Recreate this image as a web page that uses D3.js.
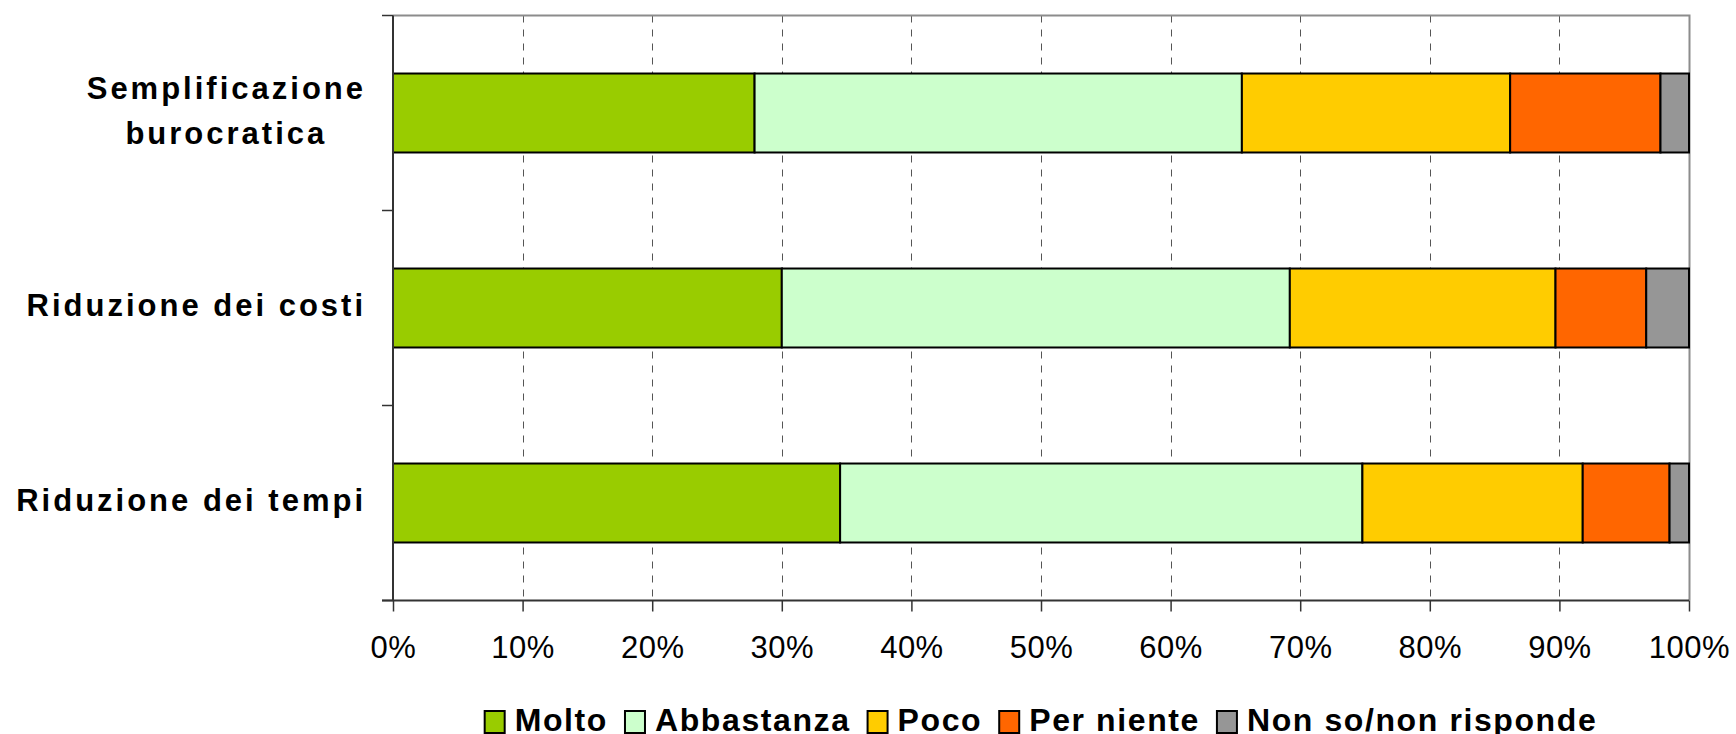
<!DOCTYPE html>
<html>
<head>
<meta charset="utf-8">
<script src="https://cdn.jsdelivr.net/npm/d3@7"></script>
<style>
  body { margin: 0; background: #fff; }
  svg { display: block; }
  text { font-family: "Liberation Sans", Arial, sans-serif; fill: #000; }
</style>
</head>
<body>
<svg id="chart" width="1736" height="734"></svg>
<script>
// Categories, top to bottom.
var categories = ["Semplificazione burocratica", "Riduzione dei costi", "Riduzione dei tempi"];
// Label lines for each category.
var category_lines = [["Semplificazione", "burocratica"], ["Riduzione dei costi"], ["Riduzione dei tempi"]];

// Series names and colours.
var series_names = ["Molto", "Abbastanza", "Poco", "Per niente", "Non so/non risponde"];
var series_colors = ["#99cc00", "#ccffcc", "#ffcc00", "#ff6600", "#969696"];

// Percent values per series (same order as categories).
var molto       = [27.9, 30.0, 34.5];
var abbastanza  = [37.6, 39.2, 40.3];
var poco        = [20.7, 20.5, 17.0];
var per_niente  = [11.6,  7.0,  6.7];
var non_so      = [ 2.2,  3.3,  1.5];

// x tick values.
var x_ticks = [0, 10, 20, 30, 40, 50, 60, 70, 80, 90, 100];

var series_values = [molto, abbastanza, poco, per_niente, non_so];

var svg = d3.select("#chart");

// plot area bounds
var plot_left = 393, plot_right = 1689, plot_top = 15.5, plot_bottom = 600.5;

var x = d3.scaleLinear().domain([0, 100]).range([plot_left, plot_right]);
var y = d3.scaleBand().domain(categories).range([plot_top, plot_bottom])
    .paddingInner(0.595).paddingOuter(0.2975);

// dashed grid lines
svg.append("g").selectAll("line")
  .data(x_ticks.slice(1, -1))
  .enter().append("line")
  .attr("x1", function(d) { return Math.round(x(d)) + 0.5; })
  .attr("x2", function(d) { return Math.round(x(d)) + 0.5; })
  .attr("y1", plot_top)
  .attr("y2", plot_bottom)
  .attr("stroke", "#555")
  .attr("stroke-width", 1)
  .attr("stroke-dasharray", "7,7");

// plot area border (top + right)
svg.append("path")
  .attr("d", "M" + plot_left + "," + plot_top + "H" + (plot_right + 0.5) + "V" + plot_bottom)
  .attr("fill", "none")
  .attr("stroke", "#8c8c8c")
  .attr("stroke-width", 2);

// stack the data
var rows = categories.map(function(c, i) {
  var o = {category: c};
  series_names.forEach(function(s, j) { o[s] = series_values[j][i]; });
  return o;
});
var stack = d3.stack().keys(series_names)(rows);

// bars
svg.append("g").selectAll("g")
  .data(stack)
  .enter().append("g")
  .attr("fill", function(d, i) { return series_colors[i]; })
  .selectAll("rect")
  .data(function(d) { return d; })
  .enter().append("rect")
  .attr("x", function(d) { return x(d[0]); })
  .attr("width", function(d) { return x(d[1]) - x(d[0]); })
  .attr("y", function(d) { return y(d.data.category); })
  .attr("height", y.bandwidth())
  .attr("stroke", "#000")
  .attr("stroke-width", 2);

// bottom axis
var xAxis = d3.axisBottom(x)
  .tickValues(x_ticks)
  .tickSize(11)
  .tickPadding(24)
  .tickFormat(function(d) { return d + "%"; });

var gx = svg.append("g")
  .attr("transform", "translate(0," + plot_bottom + ")")
  .call(xAxis);
gx.select(".domain").attr("stroke", "#333").attr("stroke-width", 2)
  .attr("d", "M" + (plot_left - 11) + ",0H" + plot_right);
gx.selectAll(".tick line").attr("stroke", "#333").attr("stroke-width", 1.5);
gx.selectAll(".tick text")
  .attr("font-size", 31)
  .attr("letter-spacing", 0.5)
  .attr("font-family", "Liberation Sans, Arial, sans-serif")
  .attr("fill", "#000");

// left axis line and category boundary ticks
var step = y.step();
var boundaries = d3.range(categories.length + 1).map(function(i) { return plot_top + i * step; });
svg.append("line")
  .attr("x1", plot_left).attr("x2", plot_left)
  .attr("y1", plot_top).attr("y2", plot_bottom)
  .attr("stroke", "#333").attr("stroke-width", 2);
svg.append("g").selectAll("line")
  .data(boundaries)
  .enter().append("line")
  .attr("x1", plot_left - 11).attr("x2", plot_left)
  .attr("y1", function(d) { return d; })
  .attr("y2", function(d) { return d; })
  .attr("stroke", "#333").attr("stroke-width", 1.5);

// category labels
var label_right = 366, line_gap = 45;
categories.forEach(function(c, i) {
  var lines = category_lines[i];
  var cy = y(c) + y.bandwidth() / 2;
  var g = svg.append("g");
  var texts = g.selectAll("text")
    .data(lines)
    .enter().append("text")
    .attr("font-size", 31)
    .attr("font-weight", "bold")
    .attr("letter-spacing", 3)
    .attr("text-anchor", "middle")
    .attr("y", function(d, k) {
      return cy + 8 + (k - (lines.length - 1) / 2) * line_gap;
    })
    .text(function(d) { return d; });
  var maxW = d3.max(texts.nodes(), function(n) { return n.getComputedTextLength(); });
  texts.attr("x", label_right - maxW / 2);
});

// legend
var legend = svg.append("g");
var lx = 0;
series_names.forEach(function(s, i) {
  var item = legend.append("g").attr("transform", "translate(" + lx + ",0)");
  item.append("rect")
    .attr("x", 0).attr("y", 711)
    .attr("width", 20).attr("height", 22)
    .attr("fill", series_colors[i])
    .attr("stroke", "#000")
    .attr("stroke-width", 2);
  var t = item.append("text")
    .attr("x", 30).attr("y", 731)
    .attr("font-size", 32)
    .attr("font-weight", "bold")
    .attr("letter-spacing", 1.6)
    .text(s);
  lx += 30 + t.node().getComputedTextLength() + 17;
});
var legend_w = lx - 17;
legend.attr("transform", "translate(" + (x(50) - legend_w / 2) + ",0)");
</script>
</body>
</html>
